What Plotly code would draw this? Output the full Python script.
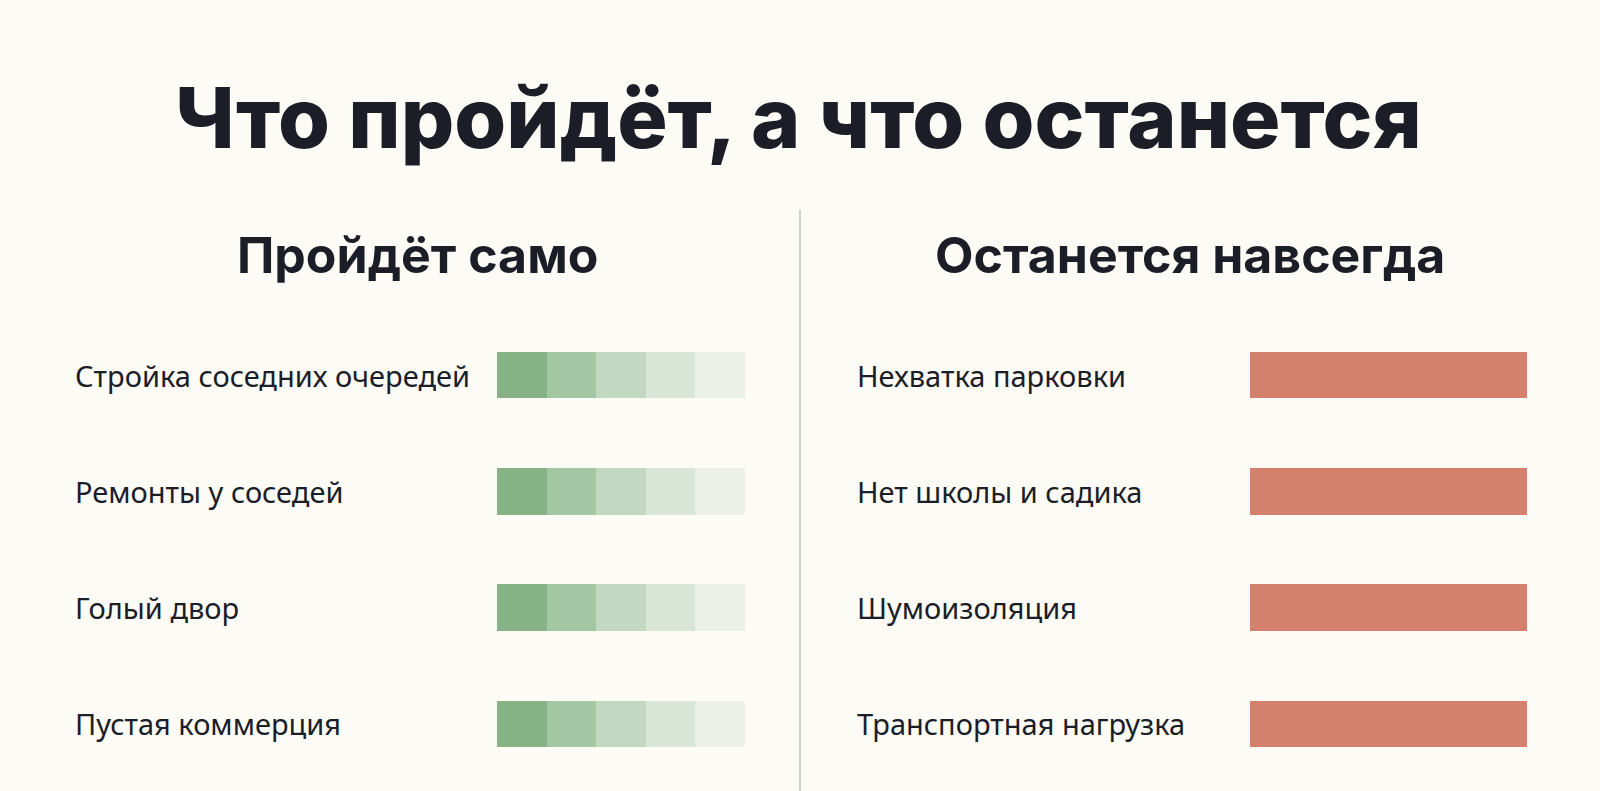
import plotly.graph_objects as go

# data
title_text = "Что пройдёт, а что останется"
left_title = "Пройдёт само"
right_title = "Останется навсегда"

left_items = ["Стройка соседних очередей", "Ремонты у соседей", "Голый двор", "Пустая коммерция"]
right_items = ["Нехватка парковки", "Нет школы и садика", "Шумоизоляция", "Транспортная нагрузка"]

# fading bar: five equal steps, each step one unit
fade_steps = [1, 1, 1, 1, 1]
fade_colors = ["#87B286", "#A3C7A2", "#C2D8C0", "#D9E5D6", "#EBF1E9"]
permanent_values = [5, 5, 5, 5]

W, H = 1600, 791
BG = "#FCFBF6"
INK = "#1B1E27"


def px_x(x):
    return x / W


def px_y(y):
    # pixel from top -> paper from bottom
    return 1 - y / H


rows = list(range(len(left_items)))

fig = go.Figure()

# left: stacked fading segments
for step, color in zip(fade_steps, fade_colors):
    fig.add_trace(go.Bar(
        x=[step] * len(left_items),
        y=rows,
        orientation='h',
        marker=dict(color=color, line=dict(width=0)),
        width=0.4,
        xaxis='x', yaxis='y',
        showlegend=False,
        hoverinfo='skip',
    ))

# right: solid bars
fig.add_trace(go.Bar(
    x=permanent_values,
    y=rows,
    orientation='h',
    marker=dict(color="#D4806C", line=dict(width=0)),
    width=0.4,
    xaxis='x2', yaxis='y2',
    showlegend=False,
    hoverinfo='skip',
))

y_dom = [px_y(782), px_y(317)]
hidden = dict(visible=False, showgrid=False, zeroline=False, fixedrange=True)

fig.update_layout(
    width=W, height=H,
    margin=dict(l=0, r=0, t=0, b=0),
    paper_bgcolor=BG,
    plot_bgcolor=BG,
    barmode='stack',
    xaxis=dict(domain=[px_x(497), px_x(745)], range=[0, 5], **hidden),
    yaxis=dict(domain=y_dom, range=[3.5, -0.5], anchor='x', **hidden),
    xaxis2=dict(domain=[px_x(1250), px_x(1527)], range=[0, 5], anchor='y2', **hidden),
    yaxis2=dict(domain=y_dom, range=[3.5, -0.5], anchor='x2', **hidden),
)

annotations = [
    dict(text=title_text, x=px_x(798), y=px_y(117), xref='paper', yref='paper',
         xanchor='center', yanchor='middle', showarrow=False,
         font=dict(family="Inter", size=84, color=INK, weight=800)),
    dict(text=left_title, x=px_x(417), y=px_y(255), xref='paper', yref='paper',
         xanchor='center', yanchor='middle', showarrow=False,
         font=dict(family="Inter", size=50, color=INK, weight=700)),
    dict(text=right_title, x=px_x(1190), y=px_y(255), xref='paper', yref='paper',
         xanchor='center', yanchor='middle', showarrow=False,
         font=dict(family="Inter", size=50, color=INK, weight=700)),
]

for r, label in zip(rows, left_items):
    annotations.append(dict(text=label, x=px_x(73), y=r, xref='paper', yref='y',
                            xanchor='left', yanchor='middle', showarrow=False,
                            font=dict(family="Noto Sans", size=29, color=INK)))
for r, label in zip(rows, right_items):
    annotations.append(dict(text=label, x=px_x(855), y=r, xref='paper', yref='y2',
                            xanchor='left', yanchor='middle', showarrow=False,
                            font=dict(family="Noto Sans", size=29, color=INK)))

fig.update_layout(annotations=annotations)

# divider between the two columns
fig.add_shape(type='line', xref='paper', yref='paper',
              x0=px_x(800), x1=px_x(800), y0=0, y1=px_y(210),
              line=dict(color="#CFCFCB", width=2))

fig.write_html("out.html", config={'displayModeBar': False},
               post_script="document.body.style.margin='0';document.body.style.background='" + BG + "';")
